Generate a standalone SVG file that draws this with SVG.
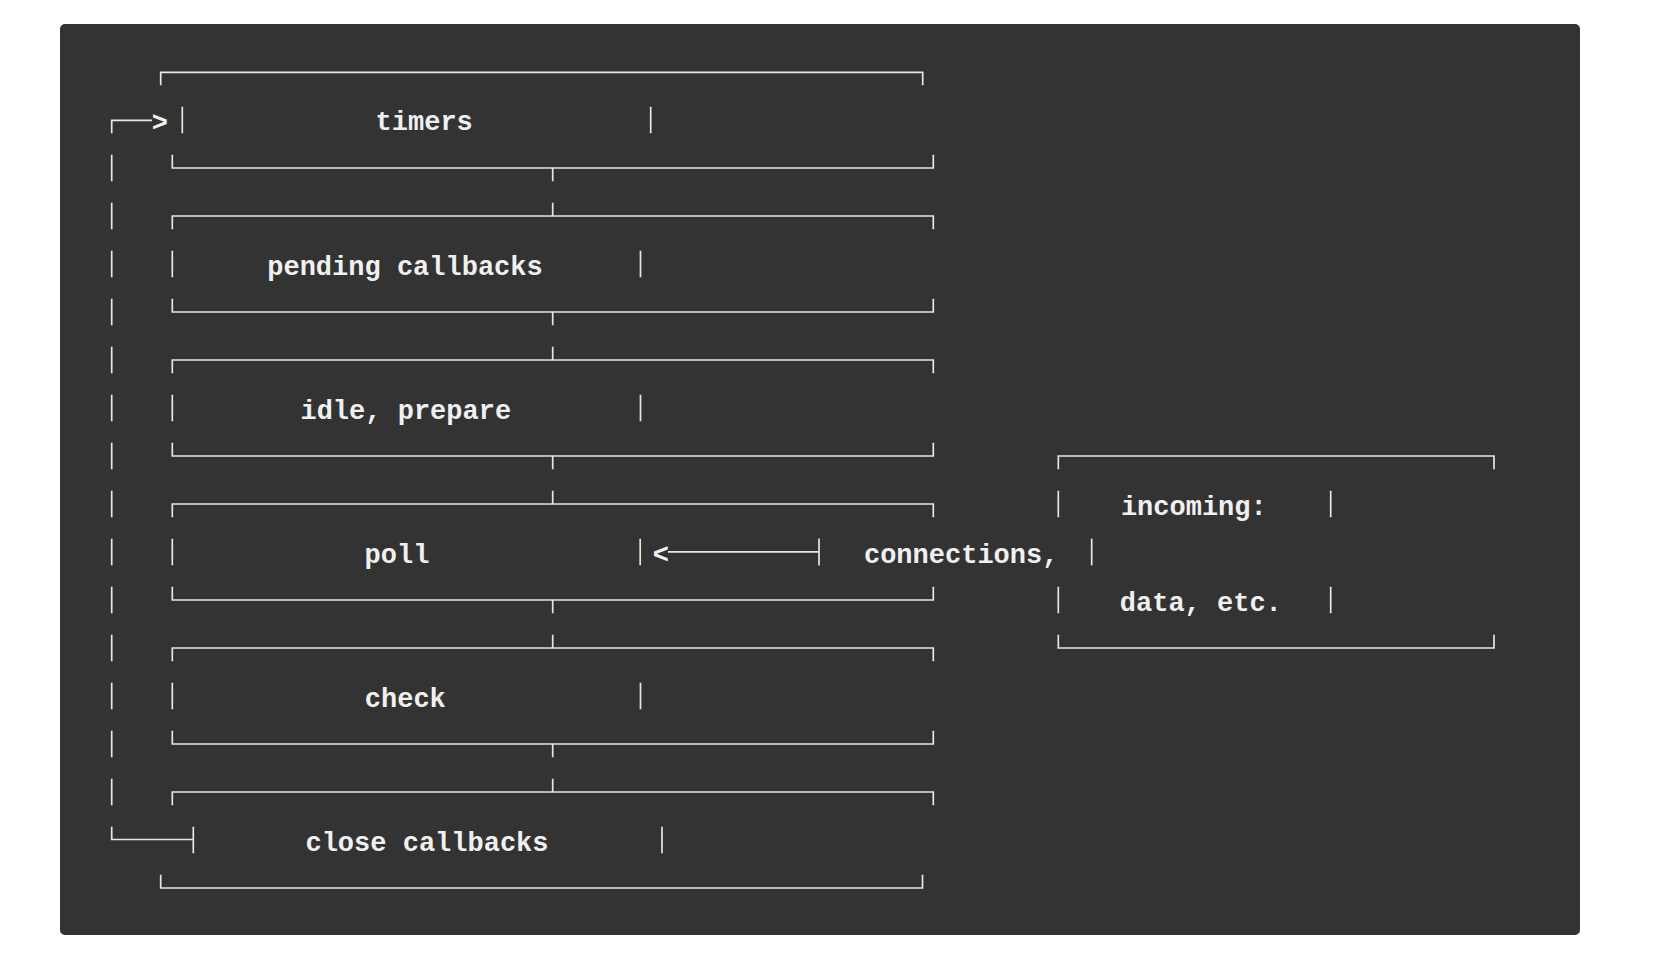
<svg xmlns="http://www.w3.org/2000/svg" width="1666" height="964" viewBox="0 0 1666 964">
<style>
.ln{stroke:#e6e6e6;stroke-width:1.7;fill:none;stroke-linecap:butt}
.tx{font-family:"Liberation Mono","DejaVu Sans Mono",monospace;font-size:27px;font-weight:bold;fill:#f0f0f0}
</style>
<rect x="0" y="0" width="1666" height="964" fill="#ffffff"/>
<rect x="60" y="24" width="1520" height="911" rx="5" fill="#333333"/>
<g id="connectors">
<path class="ln" d="M111.7,133.3 V120.3 H152"/>
<text class="tx" x="159.8" y="131" text-anchor="middle">&gt;</text>
<path class="ln" d="M111.7,154.7 V181.3 M111.7,202.7 V229.3 M111.7,250.7 V277.3 M111.7,298.7 V325.3 M111.7,346.7 V373.3 M111.7,394.7 V421.3 M111.7,442.7 V469.3 M111.7,490.7 V517.3 M111.7,538.7 V565.3 M111.7,586.7 V613.3 M111.7,634.7 V661.3 M111.7,682.7 V709.3 M111.7,730.7 V757.3 M111.7,778.7 V805.3"/>
<path class="ln" d="M111.7,826.7 V839.5 H193.3"/>
<path class="ln" d="M552.7,168 V181.3 M552.7,202.7 V216 M552.7,312 V325.3 M552.7,346.7 V360 M552.7,456 V469.3 M552.7,490.7 V504 M552.7,600 V613.3 M552.7,634.7 V648 M552.7,744 V757.3 M552.7,778.7 V792"/>
<text class="tx" x="660.8" y="563" text-anchor="middle">&lt;</text>
<path class="ln" d="M668,551.8 H819 M819,538.5 V565.5"/>
</g>
<g id="node-timers">
<path class="ln" d="M160.7,85.3 V72.3 H922.7 V85.3"/>
<path class="ln" d="M182.3,106.7 V133.3 M650.7,106.7 V133.3"/>
<path class="ln" d="M172.3,154.7 V168 H933.3 V154.7"/>
<text class="tx" x="424.2" y="130" text-anchor="middle">timers</text>
</g>
<g id="node-pending">
<path class="ln" d="M172.3,229.3 V216 H933.3 V229.3"/>
<path class="ln" d="M172.3,250.7 V277.3 M640.5,250.7 V277.3"/>
<path class="ln" d="M172.3,298.7 V312 H933.3 V298.7"/>
<text class="tx" x="405" y="275" text-anchor="middle">pending callbacks</text>
</g>
<g id="node-idle">
<path class="ln" d="M172.3,373.3 V360 H933.3 V373.3"/>
<path class="ln" d="M172.3,394.7 V421.3 M640.5,394.7 V421.3"/>
<path class="ln" d="M172.3,442.7 V456 H933.3 V442.7"/>
<text class="tx" x="405.8" y="419" text-anchor="middle">idle, prepare</text>
</g>
<g id="node-poll">
<path class="ln" d="M172.3,517.3 V504 H933.3 V517.3"/>
<path class="ln" d="M172.3,538.7 V565.3 M640.2,538.7 V565.3"/>
<path class="ln" d="M172.3,586.7 V600 H933.3 V586.7"/>
<text class="tx" x="397" y="563" text-anchor="middle">poll</text>
</g>
<g id="node-check">
<path class="ln" d="M172.3,661.3 V648 H933.3 V661.3"/>
<path class="ln" d="M172.3,682.7 V709.3 M640.5,682.7 V709.3"/>
<path class="ln" d="M172.3,730.7 V744 H933.3 V730.7"/>
<text class="tx" x="405.3" y="707" text-anchor="middle">check</text>
</g>
<g id="node-close">
<path class="ln" d="M172.3,805.3 V792 H933.3 V805.3"/>
<path class="ln" d="M193.3,826.7 V853.3 M662,826.7 V853.3"/>
<path class="ln" d="M160.7,874.7 V888 H922.5 V874.7"/>
<text class="tx" x="427" y="851" text-anchor="middle">close callbacks</text>
</g>
<g id="node-incoming">
<path class="ln" d="M1058.3,469.3 V456 H1494 V469.3"/>
<path class="ln" d="M1058.3,490.7 V517.3 M1330.7,490.7 V517.3"/>
<path class="ln" d="M1091.7,538.7 V565.3"/>
<path class="ln" d="M1058.3,586.7 V613.3 M1330.7,586.7 V613.3"/>
<path class="ln" d="M1058.3,634.7 V648 H1494 V634.7"/>
<text class="tx" x="1193.8" y="515" text-anchor="middle">incoming:</text>
<text class="tx" x="961.2" y="563" text-anchor="middle">connections,</text>
<text class="tx" x="1200.8" y="611" text-anchor="middle">data, etc.</text>
</g>
</svg>
